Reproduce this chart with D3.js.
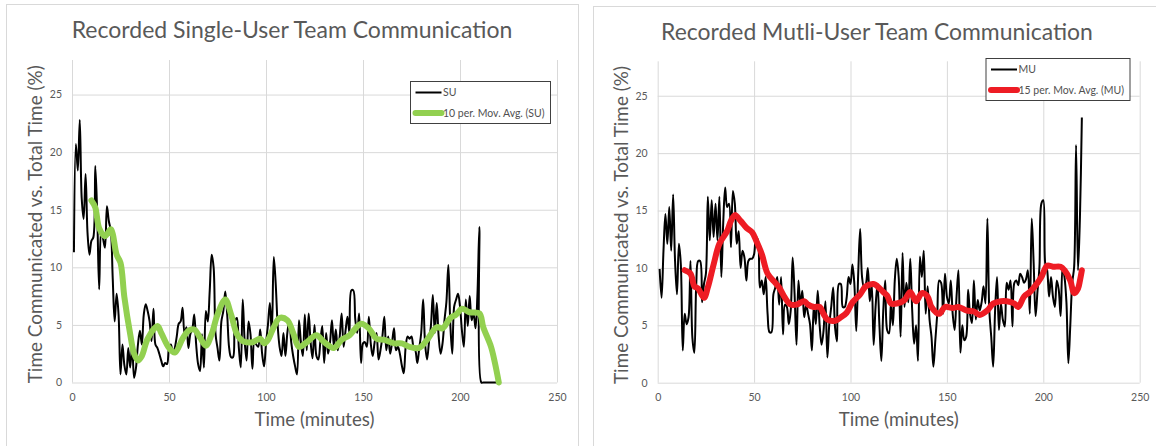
<!DOCTYPE html>
<html>
<head>
<meta charset="utf-8">
<script src="https://cdn.jsdelivr.net/npm/d3@7"></script>
<style>
  body { margin: 0; background: #fff; }
  svg text { font-family: Lato, "Open Sans", sans-serif; }
</style>
</head>
<body>
<svg id="chart" width="1156" height="446"></svg>
<script>
// axis ticks shared by both panels
const timeTicks = [0, 50, 100, 150, 200, 250];
const pctTicks = [0, 5, 10, 15, 20, 25];

// single-user recording, one value per minute starting at minute 1
const suFirstMinute = 1;
const suValues = [
  11.3, 20.7, 18.4, 22.8, 16, 14.2, 18.1, 13, 11.1, 12.3,
  12.6, 18.8, 14.6, 8.1, 13.2, 12.5, 11.7, 15.3, 14, 13.2,
  9, 5.3, 7.7, 5.9, 0.7, 3.3, 1.5, 0.7, 3, 1.3,
  3.3, 0.4, 1.3, 3.3, 4.5, 3.3, 5.9, 6.8, 6.2, 5.3,
  3.6, 6.4, 3.3, 3, 2.5, 1.9, 1.4, 1.7, 1.6, 3,
  3.3, 2.5, 3, 4, 5.1, 5.3, 6.5, 4.2, 4.8, 3,
  4.2, 4.6, 5.9, 3.3, 1.6, 1, 4.2, 1.3, 6.2, 5.3,
  8, 11.1, 10, 4.2, 3, 1.9, 5.3, 6.2, 7.9, 5.9,
  3, 2.2, 2.2, 5.3, 5.6, 3, 1.3, 7.2, 3.6, 1.9,
  5.3, 4.2, 1.2, 3.6, 3.3, 3.1, 4.6, 2.5, 1.4, 3.4,
  5, 6.9, 4.3, 10.9, 8.6, 5, 3.1, 2.3, 4.3, 2.3,
  4.3, 5.4, 3.5, 2.3, 1.4, 0.7, 5.4, 3.5, 2.3, 5.9,
  2.8, 6, 3.5, 2.1, 5, 2.3, 2, 3.5, 4.9, 1.7,
  4.3, 2.5, 3.5, 5.4, 3.1, 4.6, 2.8, 4, 6, 3.1,
  4.5, 5.7, 4.3, 8, 8, 5.5, 4.3, 6, 1.7, 3.4,
  3.5, 3.1, 5.7, 3.4, 2.3, 3.5, 4.3, 2, 2.8, 4,
  5.7, 2.8, 4, 2.5, 3.5, 4.7, 2.8, 3.1, 2.5, 1.5,
  0.8, 3.1, 4, 3.8, 4, 3.1, 2.8, 1.7, 3, 4.3,
  7.2, 3.4, 2, 3.5, 4.9, 7.6, 4.3, 6.9, 4, 2.5,
  3.4, 5.4, 7, 10.2, 5.1, 2.5, 6.6, 7.2, 7.7, 6.6,
  4.5, 3.1, 7.2, 4.9, 7.5, 5.4, 6, 4.7, 7.7, 13.5,
  0, 0, 0, 0, 0, 0, 0, 0, 0, 0
];
// 10 period moving average, as read from the trendline
const suAvgMinutes = [10, 12, 14, 17, 20, 21, 23, 25, 27, 30, 32, 34, 36, 39, 44, 46, 50, 53, 57, 60,
  63, 66, 69, 72, 75, 79, 82, 85, 88, 93, 97, 99, 101, 104, 107, 111, 114, 117, 121, 126,
  130, 135, 139, 143, 149, 153, 157, 161, 166, 170, 174, 179, 183, 188, 191, 195, 198, 201, 205, 210,
  212, 216, 218, 220];
const suAvgValues = [15.8, 15.2, 13.4, 12.7, 13.3, 12.9, 11.1, 10.4, 7.4, 4.2, 2.5, 1.9, 2.3, 3.8, 4.9, 4.3, 3, 2.6, 3.8, 4.5,
  4.6, 3.9, 3.2, 4.2, 5.9, 7.2, 5.9, 4.2, 3.6, 3.5, 3.8, 3.4, 3.7, 4.8, 5.6, 5.4, 4.3, 3.1, 3.5, 4.1,
  3.5, 3, 3.7, 4.1, 5.1, 4.7, 3.8, 3.7, 3.4, 3.4, 3.1, 3, 3.7, 4.8, 4.7, 5.6, 5.9, 6.4, 6.1, 6,
  4.8, 3.1, 1.7, 0];

// multi-user recording, one value per minute starting at minute 1
const muFirstMinute = 1;
const muValues = [
  9.9, 7.4, 11.5, 14.7, 12.1, 15.3, 11.5, 16.4, 10.6, 7.7,
  12.1, 10.3, 2.8, 6, 5.1, 5.7, 10.6, 3.9, 2.6, 8.6,
  10.6, 10.6, 7, 8.6, 9.5, 16.2, 12.4, 15.9, 12.7, 15.6,
  12.4, 16.2, 9.2, 14, 17, 15.3, 15.6, 11.8, 16.7, 15.6,
  12.1, 13.2, 10, 11.5, 10.9, 8.9, 10.6, 10.8, 10.8, 11.2,
  12.7, 12.4, 8.3, 8.9, 7.7, 9.2, 6, 4.4, 4.4, 7.7,
  8.3, 9.2, 6.8, 9.2, 4.2, 6.8, 6.6, 5.1, 6.3, 10.9,
  7.7, 3.3, 8.9, 6.8, 8, 5.7, 6.8, 6, 5.1, 2.8,
  6.8, 5.1, 8, 5, 3.3, 4.5, 7.1, 2.2, 5.1, 6.6,
  8.3, 4.8, 3.6, 8.6, 8.6, 6.6, 6.6, 7.4, 9.2, 8.6,
  10.3, 8.6, 4.5, 9.5, 13.4, 9.2, 8.3, 8.6, 10, 7.1,
  8.6, 3.3, 6.6, 8.6, 5, 1.9, 6.3, 8.9, 4.6, 4.3,
  7, 5, 9, 10.8, 9.2, 4, 11.3, 6.6, 8.7, 7,
  10.8, 6.3, 3.4, 5, 1.9, 11, 9.2, 11.5, 6, 8.4,
  5.5, 4, 1.4, 3.7, 6, 8.9, 8.7, 6, 9.5, 7.5,
  6.9, 8.9, 6, 4.6, 7.5, 9.8, 2.6, 5, 3.7, 4,
  8.1, 6, 5.2, 8.9, 5.5, 7.2, 6.3, 7, 8.4, 6.9,
  14.3, 6.3, 4, 1.4, 6.3, 9.2, 4.6, 6.9, 5.5, 4.9,
  8.7, 8.1, 8.9, 4.9, 8.7, 8.9, 8.5, 9.5, 9.2, 8.7,
  9, 9.8, 6, 14.3, 10.4, 5.8, 8, 10.1, 15.6, 15.9,
  10.4, 9.8, 7.5, 9.2, 7.5, 6.6, 8.9, 8.1, 5.8, 10.1,
  9.2, 7, 1.7, 5, 8.7, 10.1, 20.7, 9.8, 14.4, 23.1
];
// 15 period moving average, as read from the trendline
const muAvgMinutes = [14, 17, 19, 21, 24, 26, 29, 32, 36, 38, 40, 43, 46, 49, 51, 54, 57, 61, 63, 66,
  69, 72, 76, 78, 81, 84, 86, 88, 92, 95, 98, 101, 105, 108, 112, 114, 117, 119, 121, 124,
  128, 131, 134, 137, 140, 142, 146, 149, 153, 156, 160, 164, 167, 171, 174, 178, 181, 185, 187, 190,
  193, 197, 199, 202, 205, 209, 211, 214, 216, 218, 219, 220];
const muAvgValues = [9.8, 9.5, 8.4, 8.2, 7.4, 8.3, 10.3, 12.1, 13.2, 14.1, 14.6, 14.1, 13.5, 13.1, 12.4, 11.2, 9.5, 8.7, 8.3, 7.4,
  6.8, 6.8, 7.1, 6.8, 6.6, 6.6, 6, 5.5, 5.4, 5.7, 6.1, 7, 7.7, 8.4, 8.6, 8.4, 7.9, 7.6, 6.9, 6.9,
  7.2, 7.9, 7.1, 7.8, 7.5, 6.6, 6, 6.6, 6.5, 6.6, 6.3, 6.2, 5.9, 6.3, 6.9, 7.1, 7.1, 6.9, 6.6, 7.5,
  7.9, 8.7, 9.2, 10.2, 10.1, 10.1, 9.8, 8.9, 7.8, 8.2, 8.9, 9.8];

// scale a text's font size so the string spans the given width
function fitText(sel, width) {
  const base = parseFloat(sel.attr('font-size'));
  const len = sel.node().getComputedTextLength();
  if (len > 0) sel.attr('font-size', (base * width / len).toFixed(2));
}

class CommChart {

  constructor(_config, _data) {
    this.config = {
      parentElement: _config.parentElement,
      panel: _config.panel,
      plot: _config.plot,
      title: _config.title,
      titleX: _config.titleX,
      titleY: _config.titleY,
      titleWidth: _config.titleWidth,
      legend: _config.legend,
      lineColor: '#000000',
      avgColor: _config.avgColor,
      avgWidth: 6,
      textColor: '#595959',
      gridColor: '#d9d9d9'
    };
    this.data = _data;
    this.initVis();
  }

  initVis() {
    let vis = this;
    const p = vis.config.plot;

    vis.svg = d3.select(vis.config.parentElement);
    vis.chart = vis.svg.append('g');

    // light frame round the whole chart
    vis.chart.append('rect')
        .attr('x', vis.config.panel.x)
        .attr('y', vis.config.panel.y)
        .attr('width', vis.config.panel.w)
        .attr('height', vis.config.panel.h)
        .attr('fill', '#fff')
        .attr('stroke', vis.config.gridColor);

    vis.xScale = d3.scaleLinear().domain([0, 250]).range([p.left, p.right]);
    vis.yScale = d3.scaleLinear().domain([0, 28]).range([p.bottom, p.top]);

    vis.line = d3.line()
        .x(d => vis.xScale(d.t))
        .y(d => vis.yScale(d.v))
        .curve(d3.curveCatmullRom);

    vis.renderVis();
  }

  renderVis() {
    let vis = this;
    const p = vis.config.plot;
    const tc = vis.config.textColor;

    // gridlines
    vis.chart.append('g')
        .attr('transform', `translate(0,${p.bottom})`)
        .call(d3.axisBottom(vis.xScale).tickValues(timeTicks).tickSize(-(p.bottom - p.top)).tickFormat(''))
        .call(g => g.select('.domain').remove())
        .selectAll('line').attr('stroke', vis.config.gridColor);

    vis.chart.append('g')
        .attr('transform', `translate(${p.left},0)`)
        .call(d3.axisLeft(vis.yScale).tickValues(pctTicks).tickSize(-(p.right - p.left)).tickFormat(''))
        .call(g => g.select('.domain').remove())
        .selectAll('line').attr('stroke', vis.config.gridColor);

    // tick labels
    const xAxis = vis.chart.append('g')
        .attr('transform', `translate(0,${p.bottom})`)
        .call(d3.axisBottom(vis.xScale).tickValues(timeTicks).tickSize(0).tickPadding(11))
        .call(g => g.select('.domain').remove());
    xAxis.selectAll('text').attr('font-size', 10.5).attr('fill', tc).attr('font-family', null);

    const yAxis = vis.chart.append('g')
        .attr('transform', `translate(${p.left},0)`)
        .call(d3.axisLeft(vis.yScale).tickValues(pctTicks).tickSize(0).tickPadding(10))
        .call(g => g.select('.domain').remove());
    yAxis.selectAll('text').attr('font-size', 10.5).attr('fill', tc).attr('font-family', null);

    // titles
    const title = vis.chart.append('text')
        .attr('x', vis.config.titleX)
        .attr('y', vis.config.titleY)
        .attr('text-anchor', 'middle')
        .attr('font-size', 22)
        .attr('fill', tc)
        .text(vis.config.title);
    fitText(title, vis.config.titleWidth);

    const xTitle = vis.chart.append('text')
        .attr('x', (p.left + p.right) / 2)
        .attr('y', p.bottom + 43.5)
        .attr('text-anchor', 'middle')
        .attr('font-size', 18)
        .attr('fill', tc)
        .text('Time (minutes)');
    fitText(xTitle, 120);

    const yTitle = vis.chart.append('text')
        .attr('transform', `translate(${p.left - 30},${(p.top + p.bottom) / 2 + 3}) rotate(-90)`)
        .attr('text-anchor', 'middle')
        .attr('font-size', 18)
        .attr('fill', tc)
        .text('Time Communicated vs. Total Time (%)');
    fitText(yTitle, 318);

    // series
    const raw = vis.data.values.map((v, i) => ({t: vis.data.firstMinute + i, v: v}));
    const avg = vis.data.avgMinutes.map((t, i) => ({t: t, v: vis.data.avgValues[i]}));

    vis.chart.append('path')
        .datum(raw)
        .attr('fill', 'none')
        .attr('stroke', vis.config.lineColor)
        .attr('stroke-width', 2)
        .attr('stroke-linejoin', 'round')
        .attr('d', vis.line);

    vis.chart.append('path')
        .datum(avg)
        .attr('fill', 'none')
        .attr('stroke', vis.config.avgColor)
        .attr('stroke-width', vis.config.avgWidth)
        .attr('stroke-linecap', 'round')
        .attr('stroke-linejoin', 'round')
        .attr('d', vis.line);

    // legend
    const lg = vis.config.legend;
    const legend = vis.chart.append('g')
        .attr('transform', `translate(${lg.x},${lg.y})`);
    legend.append('rect')
        .attr('width', lg.w)
        .attr('height', lg.h)
        .attr('fill', '#fff')
        .attr('stroke', '#404040');

    const entries = [
      {label: vis.data.name, color: vis.config.lineColor, width: 2},
      {label: vis.data.avgName, color: vis.config.avgColor, width: vis.config.avgWidth}
    ];
    const rows = legend.selectAll('.legend-row')
        .data(entries)
      .join('g')
        .attr('class', 'legend-row')
        .attr('transform', (d, i) => `translate(0,${i === 0 ? 11 : 31.5})`);
    rows.append('line')
        .attr('x1', 5).attr('x2', 31)
        .attr('stroke', d => d.color)
        .attr('stroke-width', d => d.width)
        .attr('stroke-linecap', d => d.width > 3 ? 'round' : 'butt');
    const labels = rows.append('text')
        .attr('x', 32.5)
        .attr('dy', '.35em')
        .attr('font-size', 10)
        .attr('fill', '#505050')
        .text(d => d.label);
    fitText(d3.select(labels.nodes()[1]), lg.w - 38.5);
    labels.attr('font-size', d3.select(labels.nodes()[1]).attr('font-size'));
  }
}

new CommChart({
  parentElement: '#chart',
  panel: {x: 6.5, y: 4.5, w: 572, h: 460},
  plot: {left: 72, right: 557, top: 60, bottom: 382.5},
  title: 'Recorded Single-User Team Communication',
  titleX: 292, titleY: 38, titleWidth: 441,
  legend: {x: 410.5, y: 81.5, w: 140, h: 42},
  avgColor: '#92d050'
}, {
  name: 'SU', avgName: '10 per. Mov. Avg. (SU)',
  firstMinute: suFirstMinute, values: suValues,
  avgMinutes: suAvgMinutes, avgValues: suAvgValues
});

new CommChart({
  parentElement: '#chart',
  panel: {x: 593.5, y: 6.5, w: 580, h: 460},
  plot: {left: 657.7, right: 1139.7, top: 61.3, bottom: 382.7},
  title: 'Recorded Mutli-User Team Communication',
  titleX: 877, titleY: 40, titleWidth: 432,
  legend: {x: 986, y: 58.5, w: 144, h: 42},
  avgColor: '#ee1c24'
}, {
  name: 'MU', avgName: '15 per. Mov. Avg. (MU)',
  firstMinute: muFirstMinute, values: muValues,
  avgMinutes: muAvgMinutes, avgValues: muAvgValues
});
</script>
</body>
</html>
